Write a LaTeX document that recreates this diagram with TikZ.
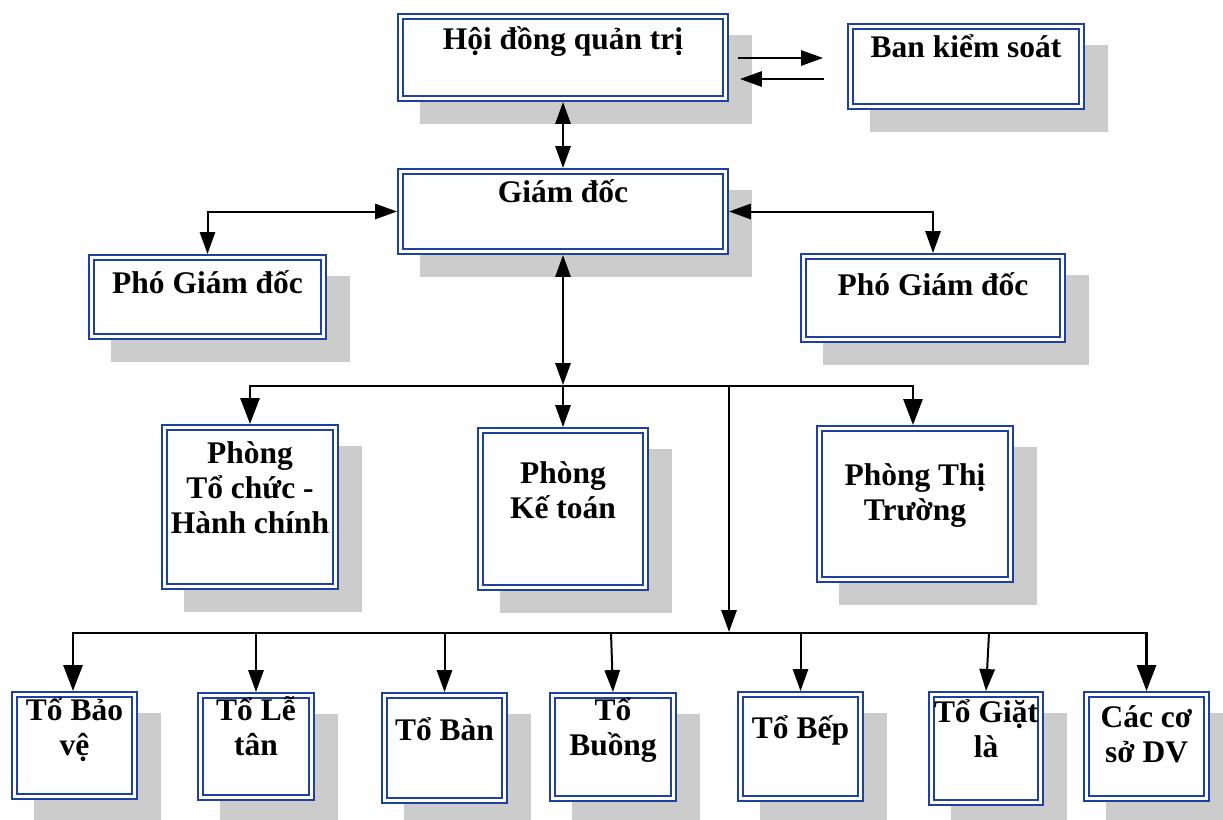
\documentclass[tikz,border=0pt]{standalone}
\usepackage{fontspec}
\setmainfont{Liberation Serif}
\usetikzlibrary{arrows.meta,calc}
\definecolor{boxblue}{RGB}{30,65,160}
\definecolor{shadowgray}{RGB}{204,204,204}
\tikzset{
  orgbox/.style={draw=boxblue, line width=1.4pt, double=white, double distance=2.2pt,
    fill=white, inner sep=0pt, outer sep=2.5pt, rectangle},
  orglabel/.style={anchor=base, inner sep=0pt, font=\fontsize{23.6}{26.3}\selectfont\bfseries},
  thinline/.style={line width=1.5pt, draw=black},
  busline/.style={line width=2.2pt, draw=black},
  thintip/.tip={Triangle[length=16.5pt,width=11.5pt]},
  thicktip/.tip={Triangle[length=19.5pt,width=14.25pt]}
}
\newcommand{\orgbox}[5]{%
  \fill[shadowgray] (#2+23,#3+22) rectangle (#4+23,#5+22);
  \pgfmathsetmacro{\obW}{(#4-#2-6.7)*0.75}%
  \pgfmathsetmacro{\obH}{(#5-#3-6.7)*0.75}%
  \node[orgbox, minimum width=\obW pt, minimum height=\obH pt] (#1) at ({(#2+#4)/2},{(#3+#5)/2}) {};
}
\newcommand{\orgtext}[4]{\node[orglabel] (#1) at (#2,#3) {\parbox[t]{220pt}{\centering #4}};}
\begin{document}
\begin{tikzpicture}[x=0.75pt,y=-0.75pt]
\useasboundingbox (0,0) rectangle (1223,819);
% boxes
\orgbox{hdqt}{397}{13}{729}{102}
\orgbox{bks}{847}{23}{1085}{110}
\orgbox{gd}{397}{168}{729}{255}
\orgbox{pgdl}{88}{254}{327}{340}
\orgbox{pgdr}{800}{253}{1066}{343}
\orgbox{pkhc}{161}{424}{339}{590}
\orgbox{pkt}{477}{427}{649}{591}
\orgbox{ptt}{816}{425}{1014}{583}
\orgbox{t1}{11}{691}{138}{800}
\orgbox{t2}{197}{692}{315}{801}
\orgbox{t3}{381}{692}{508}{804}
\orgbox{t4}{549}{692}{677}{802}
\orgbox{t5}{737}{691}{864}{802}
\orgbox{t6}{928}{691}{1044}{806}
\orgbox{t7}{1083}{691}{1210}{802}
% texts
\orgtext{hdqt-t}{563}{49}{Hội đồng quản trị}
\orgtext{bks-t}{966}{57}{Ban kiểm soát}
\orgtext{gd-t}{563}{202}{Giám đốc}
\orgtext{pgdl-t}{207.5}{293}{Phó Giám đốc}
\orgtext{pgdr-t}{933}{295}{Phó Giám đốc}
\orgtext{pkhc-t}{250}{463}{Phòng\\Tổ chức -\\Hành chính}
\orgtext{pkt-t}{563}{483}{Phòng\\Kế toán}
\orgtext{ptt-t}{915}{485}{Phòng Thị\\Trường}
\orgtext{t1-t}{74.5}{720}{Tổ Bảo\\vệ}
\orgtext{t2-t}{256}{720}{Tổ Lễ\\tân}
\orgtext{t3-t}{444.5}{740}{Tổ Bàn}
\orgtext{t4-t}{613}{720}{Tổ\\Buồng}
\orgtext{t5-t}{800.5}{738}{Tổ Bếp}
\orgtext{t6-t}{986}{722}{Tổ Giặt\\là}
\orgtext{t7-t}{1146.5}{727}{Các cơ\\sở DV}
% coordinates
\coordinate (busA) at (563,386);
\coordinate (busC) at (729,386);
\coordinate (busB) at (729,633);
% connectors top
\draw[thinline,-{thintip}] ($(hdqt.east)+(9,0.5)$) -- ($(bks.west)+(-24,-8.5)$);
\draw[thinline,-{thintip}] ($(bks.west)+(-23,12.5)$) -- ($(hdqt.east)+(11,21.5)$);
\draw[thinline,{thintip}-{thintip}] (hdqt.south) -- (gd.north);
\draw[thinline,{thintip}-{thintip}] (gd.west) -| (pgdl.north);
\draw[thinline,{thintip}-{thintip}] (gd.east) -| (pgdr.north);
\draw[thinline,{thintip}-{thintip}] (gd.south) -- ($(busA)+(0,-1)$);
% middle bus
\draw[busline,-{thicktip}] (busA) -| (pkhc.north);
\draw[busline,-{thicktip}] (busA) -| ($(ptt.north)+(-2,0)$);
\draw[thinline,-{thintip}] (busA) -- (pkt.north);
\draw[thinline,-{thintip}] (busC) -- ($(busB)+(0,-1)$);
% bottom bus
\draw[busline,-{thicktip}] (busB) -| ($(t1.north)+(-1.5,0)$);
\draw[busline,-{thicktip}] (busB) -| (t7.north);
\draw[thinline,-{thintip}] (busB -| t2.north) -- (t2.north);
\draw[thinline,-{thintip}] (busB -| t3.north) -- (t3.north);
\draw[thinline,-{thintip}] ($(busB -| t4.north)+(-2,0)$) -- (t4.north);
\draw[thinline,-{thintip}] (busB -| t5.north) -- (t5.north);
\draw[thinline,-{thintip}] ($(busB -| t6.north)+(3,0)$) -- (t6.north);
\end{tikzpicture}
\end{document}
